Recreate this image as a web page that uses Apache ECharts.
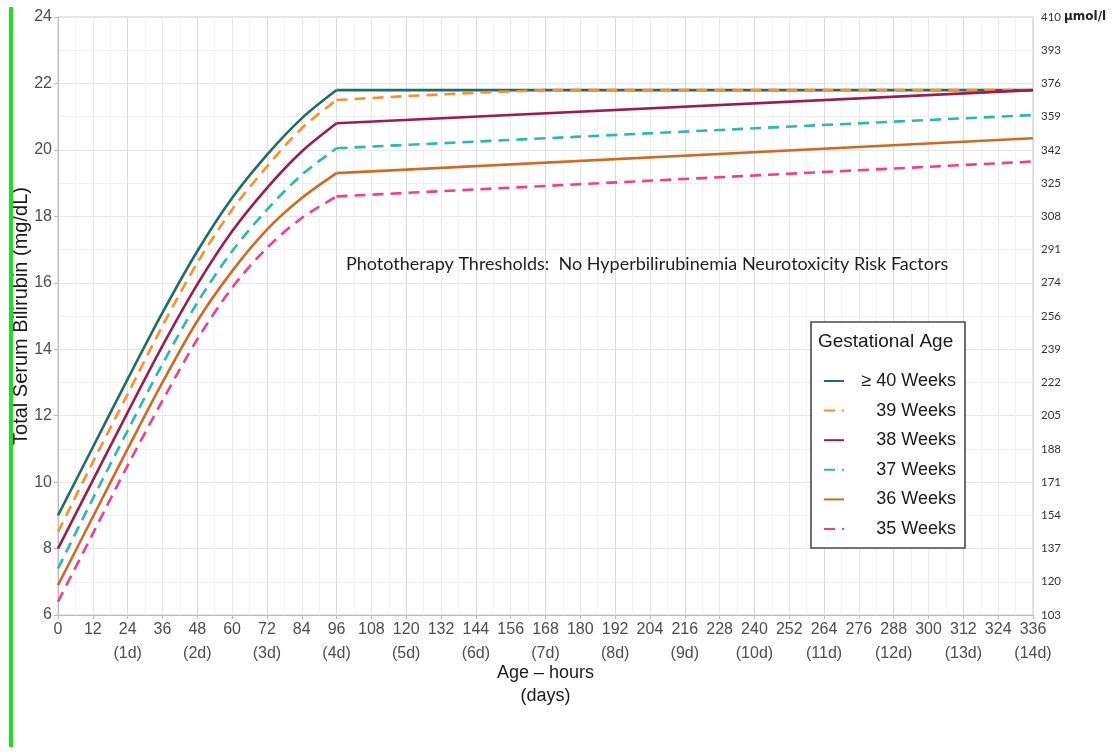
<!DOCTYPE html>
<html>
<head>
<meta charset="utf-8">
<script src="https://cdn.jsdelivr.net/npm/echarts@6/dist/echarts.min.js"></script>
<style>
  html, body { margin: 0; padding: 0; background: #ffffff; }
  #chart { width: 1113px; height: 754px; }
</style>
</head>
<body>
<div id="chart"></div>
<script>
// Age in hours at which each threshold is given (null = not listed for that group)
const hours = [0, 12, 24, 36, 48, 60, 72, 84, 96, 120, 144, 168, 336];

// Phototherapy thresholds (mg/dL) by gestational age
const ga40 = [9.0, 11.05, 13.1, 15.1, 16.95, 18.55, 19.85, 20.95, 21.8, null, null, null, 21.8];
const ga39 = [8.5, 10.6, 12.65, 14.7, 16.6, 18.2, 19.5, 20.65, 21.5, 21.62, 21.72, 21.8, 21.8];
const ga38 = [8.0, 10.05, 12.1, 14.1, 15.95, 17.55, 18.85, 19.95, 20.8, null, null, null, 21.8];
const ga37 = [7.4, 9.5, 11.55, 13.55, 15.4, 16.95, 18.2, 19.25, 20.05, null, null, null, 21.05];
const ga36 = [6.9, 8.95, 11.0, 13.0, 14.85, 16.35, 17.6, 18.55, 19.3, null, null, null, 20.35];
const ga35 = [6.4, 8.45, 10.5, 12.45, 14.3, 15.85, 17.05, 17.95, 18.6, null, null, null, 19.65];

const seriesNames = ['≥ 40 Weeks', '39 Weeks', '38 Weeks', '37 Weeks', '36 Weeks', '35 Weeks'];
const seriesValues = [ga40, ga39, ga38, ga37, ga36, ga35];
const seriesColors = ['#1d6e6a', '#ff8d2c', '#9c1c4e', '#2bb8b1', '#d06a23', '#fb3b87'];
const seriesDashed = [false, true, false, true, false, true];

// Hour at which the rising phase ends and the slow plateau begins
const plateauStart = 96;

// Right-hand scale: µmol/L equivalents of 6..24 mg/dL
const umolLabels = [103, 120, 137, 154, 171, 188, 205, 222, 239, 256, 274, 291, 308, 325, 342, 359, 376, 393, 410];
// Day captions under every 24 h tick
const dayLabels = ['(1d)', '(2d)', '(3d)', '(4d)', '(5d)', '(6d)', '(7d)', '(8d)', '(9d)', '(10d)', '(11d)', '(12d)', '(13d)', '(14d)'];

const SANS = '"Liberation Sans", Arial, Helvetica, sans-serif';
const GRID = { left: 58, right: 80, top: 17, bottom: 139 };

const chart = echarts.init(document.getElementById('chart'), null, { renderer: 'canvas' });

function lineStyleFor(i) {
  return {
    color: seriesColors[i],
    width: 2.6,
    type: seriesDashed[i] ? [11, 7] : 'solid',
    cap: 'butt'
  };
}

function pointsFor(i, test) {
  return hours
    .map((h, k) => [h, seriesValues[i][k]])
    .filter(p => p[1] !== null && test(p[0]));
}

const series = [];
seriesNames.forEach((name, i) => {
  // rising curve, first four days
  series.push({
    name: name, type: 'line', symbol: 'none', showSymbol: false,
    smooth: 0.3, connectNulls: true,
    z: 5 + i, lineStyle: lineStyleFor(i), itemStyle: { color: seriesColors[i] },
    data: pointsFor(i, h => h <= plateauStart)
  });
  // plateau, day 4 to day 14
  series.push({
    name: name, type: 'line', symbol: 'none', showSymbol: false,
    smooth: false, connectNulls: true,
    z: 5 + i, lineStyle: lineStyleFor(i), itemStyle: { color: seriesColors[i] },
    data: pointsFor(i, h => h >= plateauStart)
  });
});

const option = {
  backgroundColor: '#ffffff',
  animation: false,
  grid: {
    left: GRID.left, right: GRID.right, top: GRID.top, bottom: GRID.bottom,
    containLabel: false, outerBoundsMode: 'none',
    show: true, borderColor: '#c6c6c6', borderWidth: 1, backgroundColor: 'transparent'
  },
  xAxis: [
    {
      type: 'value', min: 0, max: 336, interval: 12,
      name: 'Age – hours\n(days)',
      nameLocation: 'middle', nameGap: 47, nameMoveOverlap: false,
      nameTextStyle: { fontFamily: SANS, fontSize: 18, color: '#1a1a1a', lineHeight: 23 },
      axisLine: { show: true, lineStyle: { color: '#bdbdbd', width: 1 } },
      axisTick: { show: true, length: 4, lineStyle: { color: '#bdbdbd' } },
      axisLabel: {
        margin: 3, fontFamily: SANS, fontSize: 16, color: '#4d4d4d', lineHeight: 24,
        formatter: v => (v > 0 && v % 24 === 0) ? v + '\n' + dayLabels[v / 24 - 1] : String(v)
      },
      splitLine: { show: true, lineStyle: { color: '#e9e9e9', width: 1 } },
      minorTick: { show: false, splitNumber: 2 },
      minorSplitLine: { show: true, lineStyle: { color: '#f2f2f2', width: 1 } }
    },
    {
      // stronger day lines every 24 h
      type: 'value', min: 0, max: 336, interval: 24, position: 'bottom',
      axisLine: { show: false }, axisTick: { show: false }, axisLabel: { show: false },
      splitLine: { show: true, lineStyle: { color: '#dcdcdc', width: 1 } }
    }
  ],
  yAxis: [
    {
      type: 'value', min: 6, max: 24, interval: 2, position: 'left',
      name: 'Total Serum Bilirubin (mg/dL)',
      nameLocation: 'middle', nameGap: 27, nameMoveOverlap: false,
      nameTextStyle: { fontFamily: SANS, fontSize: 20, color: '#1a1a1a' },
      axisLine: { show: true, lineStyle: { color: '#bdbdbd', width: 1 } },
      axisTick: { show: true, length: 4, lineStyle: { color: '#bdbdbd' } },
      axisLabel: { margin: 6, fontFamily: SANS, fontSize: 16, color: '#4d4d4d' },
      splitLine: { show: true, lineStyle: { color: '#e6e6e6', width: 1 } },
      minorTick: { show: false, splitNumber: 2 },
      minorSplitLine: { show: true, lineStyle: { color: '#efefef', width: 1 } }
    },
    {
      type: 'value', min: 6, max: 24, interval: 1, position: 'right',
      axisLine: { show: false }, axisTick: { show: false },
      splitLine: { show: false },
      axisLabel: {
        margin: 8, fontFamily: 'Lato, "Liberation Sans", sans-serif', fontSize: 11.5, color: '#333333',
        formatter: v => {
          const u = umolLabels[Math.round(v) - 6];
          return v === 24 ? u + ' {u|µmol/l}' : String(u);
        },
        rich: {
          u: { fontFamily: '"DejaVu Sans", sans-serif', fontWeight: 'bold', fontSize: 12, color: '#222222' }
        }
      }
    }
  ],
  legend: {
    orient: 'vertical', left: 818, top: 367,
    itemWidth: 20, itemHeight: 14, itemGap: 11.6,
    selectedMode: false, z: 20,
    data: seriesNames,
    itemStyle: { opacity: 0, borderWidth: 0 },
    formatter: n => '{n|' + n + '}',
    textStyle: {
      rich: {
        n: { width: 107, align: 'right', fontFamily: SANS, fontSize: 18, lineHeight: 20, color: '#1a1a1a' }
      }
    }
  },
  graphic: [
    {
      type: 'rect', z: 100,
      shape: { x: 9, y: 7, width: 4, height: 740 },
      style: { fill: '#1fe01f' }
    },
    {
      type: 'rect', z: 1,
      shape: { x: 811, y: 322, width: 154, height: 226 },
      style: { fill: '#ffffff', stroke: '#4a4a4a', lineWidth: 1.6 }
    },
    {
      type: 'text', z: 2, x: 818, y: 342,
      style: {
        text: 'Gestational Age', fontFamily: SANS, fontSize: 19, fill: '#1a1a1a',
        verticalAlign: 'middle', align: 'left'
      }
    },
    {
      type: 'text', z: 2, x: 346, y: 264,
      style: {
        text: 'Phototherapy Thresholds:  No Hyperbilirubinemia Neurotoxicity Risk Factors',
        fontFamily: 'Lato, "Liberation Sans", sans-serif', fontSize: 18, fill: '#1f1f1f',
        verticalAlign: 'middle', align: 'left'
      }
    }
  ],
  series: series
};

chart.setOption(option);
</script>
</body>
</html>
